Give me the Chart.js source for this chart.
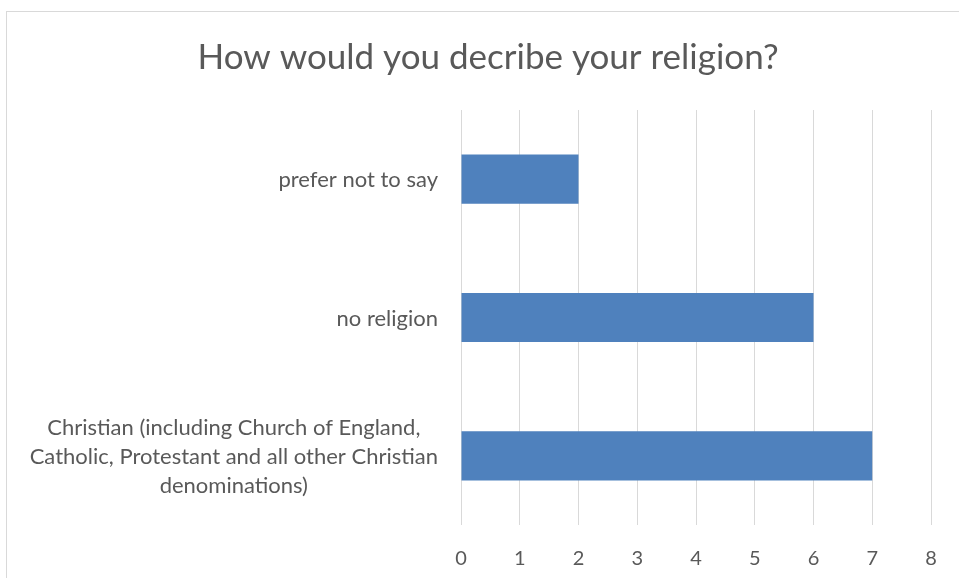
<!DOCTYPE html>
<html>
<head>
<meta charset="utf-8">
<script src="https://cdn.jsdelivr.net/npm/chart.js@4"></script>
<style>
    html, body { margin: 0; padding: 0; background: #fff; overflow: hidden; }
    .moldura { position: absolute; left: 6px; top: 11px; width: 1000px; height: 1000px; border: 1px solid #d9d9d9; }
    .graph { position: absolute; left: 0; top: 0; }
</style>
</head>
<body>
<div class="moldura"></div>
<div class="graph"><canvas id="myChart" width="976" height="600"></canvas></div>
<script>
// Dados do gráfico (de cima para baixo)
const titulo = 'How would you decribe your religion?';
const categorias = [
    ['prefer not to say'],
    ['no religion'],
    ['Christian (including Church of England,', 'Catholic, Protestant and all other Christian', 'denominations)']
];
const valores = [2, 6, 7];
const ticksX = [0, 1, 2, 3, 4, 5, 6, 7, 8];

const fonte = 'Lato, "Open Sans", sans-serif';
const corTexto = '#595959';

// Rótulos do eixo Y: bloco alinhado à direita, linhas centralizadas (como no Excel)
const rotulosY = {
    id: 'rotulosY',
    afterDraw(chart) {
        const ctx = chart.ctx;
        const escala = chart.scales.y;
        ctx.save();
        ctx.font = '22px ' + fonte;
        ctx.fillStyle = corTexto;
        ctx.textAlign = 'center';
        ctx.textBaseline = 'middle';
        const direita = escala.right - 23;
        categorias.forEach((linhas, i) => {
            const larg = Math.max(...linhas.map(l => ctx.measureText(l).width));
            const cx = direita - larg / 2;
            const cy = escala.getPixelForValue(i) + 1;
            linhas.forEach((l, k) => {
                ctx.fillText(l, cx, cy + (k - (linhas.length - 1) / 2) * 29);
            });
        });
        ctx.restore();
    }
};

const ctx = document.getElementById('myChart').getContext('2d');

const graph = new Chart(ctx, {
    type: 'bar',
    data: {
        labels: categorias.map(c => c.join(' ')),
        datasets: [{
            label: titulo,
            data: valores,
            backgroundColor: '#4F81BD',
            borderWidth: 0,
            barPercentage: 0.355,
            categoryPercentage: 1
        }]
    },
    options: {
        indexAxis: 'y',
        responsive: false,
        animation: false,
        layout: {
            padding: { left: 45, right: 45, top: 0, bottom: 7 }
        },
        plugins: {
            legend: { display: false },
            tooltip: { enabled: false },
            title: {
                display: true,
                text: titulo,
                color: corTexto,
                font: { family: fonte, size: 35, weight: 'normal' },
                padding: { top: 37, bottom: 31 }
            }
        },
        scales: {
            x: {
                position: 'bottom',
                min: 0,
                max: 8,
                afterBuildTicks: s => { s.ticks = ticksX.map(v => ({ value: v })); },
                grid: { color: '#d9d9d9', lineWidth: 1, drawTicks: false },
                border: { display: false },
                ticks: {
                    color: corTexto,
                    font: { family: fonte, size: 20 },
                    padding: 22
                }
            },
            y: {
                grid: { display: false },
                border: { display: false },
                ticks: { display: false },
                afterFit: s => { s.width = 416; }
            }
        }
    },
    plugins: [rotulosY]
});
</script>
</body>
</html>
